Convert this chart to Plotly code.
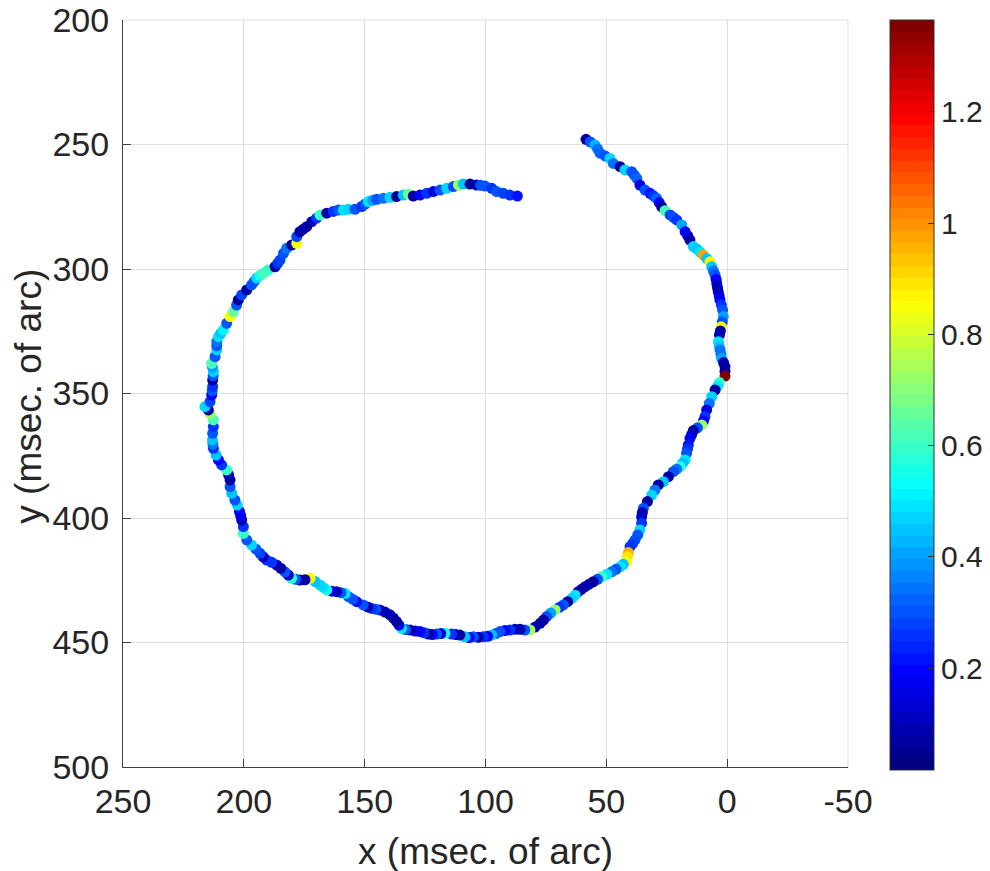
import plotly.graph_objects as go

# ---- data, in drawing order, per arc ----
seg1_x = [58.4, 56.6, 54.7, 53.6, 52.6, 50.5, 48.5, 47.1, 44.3, 42.3, 39.5, 38.4, 37.4, 36.1, 34.0,
          31.9, 30.5, 29.2, 28.1, 27.1, 25.7, 23.6, 22.2, 20.9, 18.8, 17.4, 16.3, 15.4, 14.0, 12.5,
          11.2, 9.9, 8.4, 7.1, 6.4, 5.7, 5.0, 4.6, 4.3, 4.0, 3.7, 3.3, 3.0, 2.4, 1.9,
          1.6, 2.0, 2.5, 2.8, 3.2, 3.6, 3.3, 2.9, 2.6, 2.3, 1.5, 0.9, 0.9, 0.9]
seg1_y = [247.9, 249.0, 250.2, 251.8, 253.5, 254.6, 255.6, 257.6, 258.9, 260.2, 260.9, 262.3, 263.6,
          266.3, 268.3, 269.6, 270.6, 271.6, 273.3, 275.0, 276.6, 278.3, 279.3, 280.3, 282.3, 285.0,
          286.7, 288.4, 291.0, 292.0, 293.2, 294.4, 295.8, 297.1, 299.1, 300.8, 302.4, 304.1, 305.8,
          307.5, 309.1, 310.8, 312.4, 314.5, 316.5,
          319.1, 321.2, 323.2, 324.9, 326.5, 329.2, 330.9, 332.5, 334.2, 335.9, 337.6, 339.2, 341.1, 343.0]
seg1_c = [0.08, 0.30, 0.42, 0.35, 0.33, 0.30, 0.47, 0.35, 0.06, 0.48, 0.30, 0.30, 0.33, 0.15, 0.30,
          0.22, 0.25, 0.33, 0.20, 0.07, 0.62, 0.28, 0.30, 0.25, 0.40, 0.20, 0.15, 0.08, 0.47, 0.45,
          0.50, 0.97, 0.45, 0.88, 0.45, 0.35, 0.30, 0.20, 0.15, 0.10, 0.10, 0.15, 0.20, 0.25, 0.30,
          0.40, 0.30, 0.86, 0.10, 0.10, 0.50, 0.45, 0.35, 0.35, 0.40, 0.10, 0.07, 0.08, 1.36]

seg2_x = [3.2, 4.0, 5.0, 6.4, 7.4, 8.5, 9.2, 9.8, 10.5, 12.3, 14.0, 14.7, 15.4, 16.1, 16.4, 16.8,
          17.4, 18.4, 19.5, 20.9, 22.3, 24.3, 26.4, 28.5, 29.9, 31.2, 33.0, 34.7, 35.1, 35.4, 35.4,
          36.1, 37.0, 38.1, 39.1, 40.2, 40.9, 41.3, 41.6, 43.0, 44.3, 46.0, 47.8, 49.8, 51.9, 53.6,
          55.4, 57.1, 58.8, 60.2, 61.6, 62.9, 64.3, 66.0, 67.8, 69.5, 71.2]
seg2_y = [345.6, 347.1, 348.6, 351.3, 354.0, 356.6, 359.3, 361.0, 362.7, 363.8, 364.9, 366.5, 368.0,
          370.7, 372.3, 374.0, 376.7, 378.0, 379.4, 380.4, 381.4, 383.4, 385.4, 386.7, 388.8, 390.8,
          393.4, 396.1, 397.8, 399.5, 402.1, 404.8, 406.8, 408.8, 410.2, 411.5, 413.9, 415.7, 417.5,
          418.6, 419.6, 420.6, 421.6, 422.6, 423.6, 424.6, 425.6, 426.6, 427.6, 428.6, 429.6, 431.0,
          432.3, 433.6, 434.9, 435.9, 436.9]
seg2_c = [0.60, 0.50, 0.08, 0.48, 0.35, 0.15, 0.25, 0.20, 0.72, 0.30, 0.08, 0.12, 0.20, 0.22, 0.25,
          0.30, 0.50, 0.45, 0.58, 0.35, 0.30, 0.10, 0.45, 0.08, 0.35, 0.47, 0.08, 0.30, 0.10, 0.12,
          0.25, 0.47, 0.30, 0.30, 0.28, 0.25, 0.95, 0.90, 0.85, 0.45, 0.50, 0.30, 0.35, 0.50, 0.60,
          0.30, 0.08, 0.06, 0.10, 0.10, 0.06, 0.50, 0.48, 0.06, 0.30, 0.25, 0.73]

seg3_x = [73.0, 74.7, 76.0, 77.4, 79.5, 81.6, 83.7, 85.7, 87.8, 89.9, 92.0, 94.0, 95.7, 97.4, 99.1,
          100.9, 103.0, 105.0, 106.8, 108.5, 110.6, 112.3, 114.0, 116.8, 118.5, 120.2, 122.0, 123.7,
          125.4, 127.1, 129.1, 131.2, 133.0, 134.7, 135.8, 136.8, 138.1, 139.5, 141.6, 143.7, 145.4,
          147.1, 148.8, 150.6, 153.3, 155.0, 156.7, 158.1, 159.8, 161.6, 163.6, 165.7, 167.1, 168.5,
          170.5, 172.6, 174.7, 176.8, 178.5, 180.2, 181.6, 183.0, 184.7, 186.4, 188.5, 190.6, 192.0,
          193.3]
seg3_y = [438.2, 439.6, 441.0, 442.3, 443.8, 445.0, 445.0, 444.7, 444.7, 445.0, 445.2, 445.6, 446.4,
          447.0, 447.5, 447.7, 447.9, 447.7, 448.0, 447.7, 447.0, 446.8, 446.6, 446.3, 446.4, 446.6,
          446.8, 446.6, 446.1, 445.6, 445.4, 445.0, 444.8, 444.3, 443.0, 441.6, 440.2, 438.9, 437.8,
          436.9, 436.6, 436.3, 435.7, 434.9, 433.6, 432.6, 431.6, 430.3, 430.0, 429.6, 429.4, 428.9,
          427.9, 426.9, 425.5, 424.2, 424.8, 424.9, 424.6, 424.2, 422.9, 421.6, 420.2, 418.9, 417.8,
          416.9, 415.6, 414.2]
seg3_c = [0.40, 0.30, 0.10, 0.08, 0.10, 0.75, 0.30, 0.08, 0.12, 0.25, 0.20, 0.30, 0.30, 0.45, 0.20,
          0.25, 0.10, 0.30, 0.20, 0.45, 0.06, 0.10, 0.25, 0.55, 0.15, 0.30, 0.20, 0.08, 0.25, 0.20,
          0.15, 0.08, 0.30, 0.50, 0.20, 0.08, 0.08, 0.10, 0.10, 0.12, 0.30, 0.25, 0.10, 0.30, 0.22,
          0.30, 0.30, 0.50, 0.30, 0.10, 0.15, 0.55, 0.50, 0.47, 0.45, 0.86, 0.10, 0.07, 0.30, 0.58,
          0.12, 0.30, 0.08, 0.10, 0.25, 0.25, 0.12, 0.28]

seg4_x = [195.0, 196.8, 198.8, 200.2, 200.2, 200.9, 201.3, 201.8, 202.7, 203.7, 205.0, 205.7, 205.7,
          206.3, 207.1, 209.2, 210.5, 211.5, 212.6, 212.8, 213.0, 212.9, 212.6, 212.6, 214.0, 214.7,
          216.1, 214.0, 213.3, 213.1, 212.9, 212.9, 212.7, 212.6, 213.0, 213.3, 211.9, 211.2, 211.2,
          211.2]
seg4_y = [412.5, 410.8, 408.8, 406.2, 403.5, 400.8, 399.1, 397.4, 394.8, 392.8, 390.1, 387.4, 384.7,
          382.7, 380.7, 378.7, 376.7, 374.7, 372.0, 370.3, 368.7, 366.0, 363.3, 360.6, 358.0, 356.6,
          355.3, 353.3, 350.6, 348.9, 347.2, 344.6, 342.9, 341.2, 339.5, 337.9, 335.2, 332.5, 330.8,
          329.2]
seg4_c = [0.30, 0.47, 0.30, 0.60, 0.25, 0.10, 0.15, 0.20, 0.47, 0.30, 0.45, 0.30, 0.08, 0.10, 0.60,
          0.25, 0.20, 0.45, 0.25, 0.35, 0.45, 0.30, 0.25, 0.62, 0.72, 0.07, 0.47, 0.28, 0.20, 0.30,
          0.25, 0.08, 0.30, 0.48, 0.40, 0.62, 0.30, 0.47, 0.30, 0.35]

seg5_x = [210.5, 209.5, 208.5, 207.1, 205.7, 204.3, 203.0, 202.3, 200.9, 198.8, 196.8, 195.7, 194.7,
          193.3, 191.9, 189.9, 187.1, 186.0, 185.0, 183.6, 182.3, 180.2, 178.1, 178.1, 176.8, 175.4,
          174.0, 171.9, 169.9, 168.5, 165.7, 163.0, 160.9, 158.8, 156.8, 154.0, 151.2, 149.8, 148.5,
          146.7, 145.0, 142.3, 139.5, 136.8, 134.0, 131.9, 129.9, 127.1, 124.3, 121.6, 118.8, 116.1,
          113.3, 111.2, 109.2, 106.4, 103.7, 102.0, 100.2, 97.4, 95.4, 92.6, 89.9, 86.8]
seg5_y = [327.2, 325.8, 324.5, 321.8, 319.1, 317.1, 314.5, 312.4, 310.4, 308.4, 306.4, 305.0, 303.7,
          302.6, 301.7, 300.4, 299.1, 297.7, 296.4, 293.7, 291.7, 290.4, 289.7, 287.0, 285.0, 284.0,
          283.0, 281.0, 279.6, 278.3, 277.6, 276.9, 276.3, 276.3, 276.0, 276.0, 274.9, 273.9, 272.9,
          272.4, 272.0, 271.6, 271.2, 270.9, 270.3, 269.9, 270.7, 270.3, 269.6, 268.9, 268.3, 267.6,
          266.9, 266.3, 265.9, 265.9, 266.3, 266.4, 266.7, 267.6, 268.9, 269.6, 270.3, 270.7]
seg5_c = [0.50, 0.45, 0.52, 0.30, 0.85, 0.65, 0.30, 0.07, 0.28, 0.07, 0.30, 0.30, 0.48, 0.55, 0.62,
          0.60, 0.07, 0.25, 0.28, 0.30, 0.35, 0.06, 0.84, 0.28, 0.07, 0.10, 0.06, 0.10, 0.25, 0.60,
          0.08, 0.25, 0.30, 0.50, 0.48, 0.30, 0.25, 0.30, 0.50, 0.40, 0.30, 0.35, 0.48, 0.05, 0.45,
          0.65, 0.08, 0.20, 0.25, 0.15, 0.30, 0.47, 0.28, 0.72, 0.45, 0.06, 0.08, 0.30, 0.30, 0.25,
          0.30, 0.28, 0.25, 0.22]

x_vals = seg1_x + seg2_x + seg3_x + seg4_x + seg5_x
y_vals = seg1_y + seg2_y + seg3_y + seg4_y + seg5_y
c_vals = seg1_c + seg2_c + seg3_c + seg4_c + seg5_c
assert len(x_vals) == len(y_vals) == len(c_vals)

c_min, c_max = 0.017, 1.365
x_ticks = [250, 200, 150, 100, 50, 0, -50]
x_ticktext = ["250", "200", "150", "100", "50", "0", "-50"]
y_ticks = [200, 250, 300, 350, 400, 450, 500]
y_ticktext = ["200", "250", "300", "350", "400", "450", "500"]
cb_ticks = [0.2, 0.4, 0.6, 0.8, 1.0, 1.2]
cb_ticktext = ["0.2", "0.4", "0.6", "0.8", "1", "1.2"]


# ---- MATLAB-like jet colormap with 64 discrete bands ----
def jet(t):
    def clip(v):
        return max(0.0, min(1.0, v))
    r = clip(1.5 - abs(4 * t - 3))
    g = clip(1.5 - abs(4 * t - 2))
    b = clip(1.5 - abs(4 * t - 1))
    return f"rgb({round(r*255)},{round(g*255)},{round(b*255)})"


n_bands = 64
colorscale = []
for i in range(n_bands):
    col = jet(i / (n_bands - 1))
    colorscale.append([i / n_bands, col])
    colorscale.append([(i + 1) / n_bands, col])

font_family = "Liberation Sans, Arial, sans-serif"
txt_col = "#262626"
grid_col = "rgb(223,223,223)"

fig = go.Figure(
    go.Scatter(
        x=x_vals,
        y=y_vals,
        mode="markers",
        marker=dict(
            size=11,
            color=c_vals,
            colorscale=colorscale,
            cmin=c_min,
            cmax=c_max,
            line=dict(width=0),
            colorbar=dict(
                x=1.058,
                xanchor="left",
                xpad=0,
                y=0.498,
                yanchor="middle",
                ypad=0,
                lenmode="pixels",
                len=750,
                thickness=44,
                outlinewidth=1,
                outlinecolor="#333333",
                tickvals=cb_ticks,
                ticktext=cb_ticktext,
                ticks="inside",
                ticklen=6,
                tickcolor="#333333",
                tickfont=dict(size=30, color=txt_col, family=font_family),
            ),
        ),
        hoverinfo="skip",
        showlegend=False,
    )
)

axis_common = dict(
    showgrid=True,
    gridcolor=grid_col,
    gridwidth=1,
    zeroline=False,
    showline=True,
    linecolor="#404040",
    linewidth=1,
    mirror=False,
    ticks="inside",
    ticklen=8,
    tickcolor="#404040",
    automargin=False,
    ticklabeloverflow="allow",
    tickfont=dict(size=34, color=txt_col, family=font_family),
)

# the page body adds an 8px offset, so margins are shifted by 8px
fig.update_layout(
    width=990,
    height=871,
    margin=dict(l=115, r=150, t=12, b=112, autoexpand=False),
    paper_bgcolor="white",
    plot_bgcolor="white",
    xaxis=dict(
        range=[250, -50],
        tickvals=x_ticks,
        ticktext=x_ticktext,
        ticklabelstandoff=4,
        title=dict(text="x (msec. of arc)", font=dict(size=37, color=txt_col, family=font_family), standoff=19),
        **axis_common,
    ),
    yaxis=dict(
        range=[500, 200],
        tickvals=y_ticks,
        ticktext=y_ticktext,
        ticklabelstandoff=6,
        **axis_common,
    ),
    annotations=[
        dict(
            text="y (msec. of arc)",
            textangle=-90,
            xref="paper", yref="paper",
            x=-0.1297, y=0.497,
            xanchor="center", yanchor="middle",
            showarrow=False,
            font=dict(size=37, color=txt_col, family=font_family),
        )
    ],
    shapes=[
        dict(type="line", xref="paper", yref="paper", x0=0, x1=1, y0=1, y1=1,
             line=dict(color=grid_col, width=1), layer="below"),
        dict(type="line", xref="paper", yref="paper", x0=1, x1=1, y0=0, y1=1,
             line=dict(color=grid_col, width=1), layer="below"),
    ],
)

fig.write_html("out.html")
